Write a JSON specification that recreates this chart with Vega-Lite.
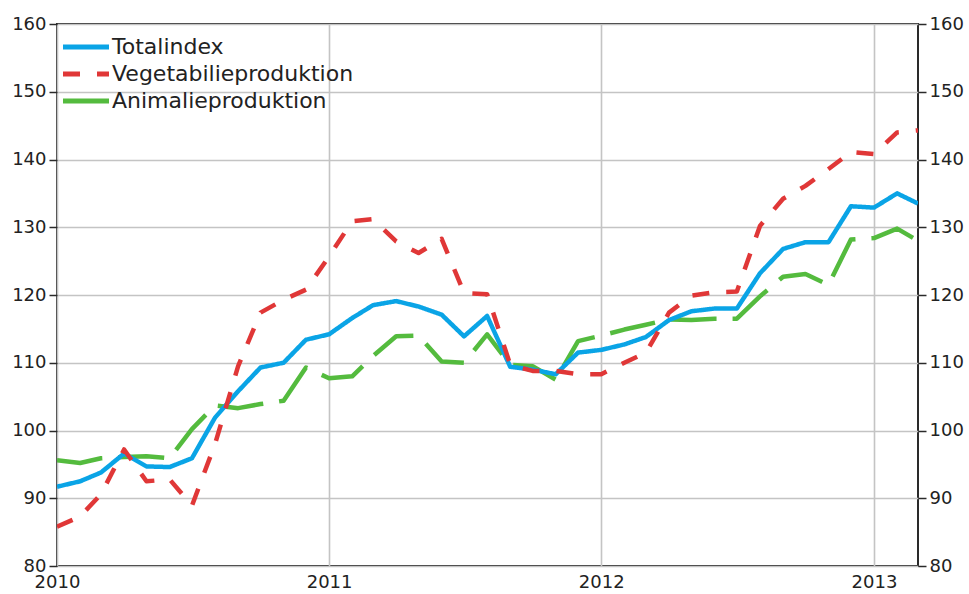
{
  "$schema": "https://vega.github.io/schema/vega-lite/v6.json",
  "width": 861,
  "height": 542,
  "autosize": "none",
  "padding": {"left": 57, "top": 24, "right": 51, "bottom": 28},
  "background": "white",
  "config": {
    "font": "DejaVu Sans",
    "view": {"stroke": "#2a2a2a", "strokeWidth": 2},
    "axis": {"labelFont": "DejaVu Sans", "labelFontSize": 18, "labelColor": "#222", "gridColor": "#c4c4c4", "gridWidth": 1.6, "domain": false, "tickColor": "#2a2a2a", "tickWidth": 1.5},
    "legend": {"orient": "none", "legendX": 15, "legendY": 9, "symbolType": "M-2,0H2", "symbolSize": 529, "symbolStrokeWidth": 5, "symbolFillColor": "transparent", "labelFont": "DejaVu Sans", "labelFontSize": 22, "labelColor": "#222", "labelLimit": 0, "rowPadding": 2, "labelOffset": 12, "symbolOffset": 0, "padding": 0}
  },
  "data": {"values": [
    {"m": "2010-01-01", "Totalindex": 91.7, "Vegetabilieproduktion": 85.8, "Animalieproduktion": 95.6},
    {"m": "2010-02-01", "Totalindex": 92.5, "Vegetabilieproduktion": 87.3, "Animalieproduktion": 95.2},
    {"m": "2010-03-01", "Totalindex": 93.8, "Vegetabilieproduktion": 90.6, "Animalieproduktion": 95.9},
    {"m": "2010-04-01", "Totalindex": 96.6, "Vegetabilieproduktion": 97.2, "Animalieproduktion": 96.1},
    {"m": "2010-05-01", "Totalindex": 94.7, "Vegetabilieproduktion": 92.5, "Animalieproduktion": 96.2},
    {"m": "2010-06-01", "Totalindex": 94.6, "Vegetabilieproduktion": 92.8, "Animalieproduktion": 95.9},
    {"m": "2010-07-01", "Totalindex": 95.9, "Vegetabilieproduktion": 88.9, "Animalieproduktion": 100.2},
    {"m": "2010-08-01", "Totalindex": 101.9, "Vegetabilieproduktion": 98.0, "Animalieproduktion": 103.7},
    {"m": "2010-09-01", "Totalindex": 105.8, "Vegetabilieproduktion": 109.5, "Animalieproduktion": 103.3},
    {"m": "2010-10-01", "Totalindex": 109.3, "Vegetabilieproduktion": 117.4, "Animalieproduktion": 103.9},
    {"m": "2010-11-01", "Totalindex": 110.0, "Vegetabilieproduktion": 119.3, "Animalieproduktion": 104.4},
    {"m": "2010-12-01", "Totalindex": 113.4, "Vegetabilieproduktion": 120.8, "Animalieproduktion": 109.3},
    {"m": "2011-01-01", "Totalindex": 114.2, "Vegetabilieproduktion": 125.7, "Animalieproduktion": 107.7},
    {"m": "2011-02-01", "Totalindex": 116.6, "Vegetabilieproduktion": 130.9, "Animalieproduktion": 108.0},
    {"m": "2011-03-01", "Totalindex": 118.5, "Vegetabilieproduktion": 131.2, "Animalieproduktion": 111.0},
    {"m": "2011-04-01", "Totalindex": 119.1, "Vegetabilieproduktion": 127.9, "Animalieproduktion": 113.9},
    {"m": "2011-05-01", "Totalindex": 118.3, "Vegetabilieproduktion": 126.2, "Animalieproduktion": 114.0},
    {"m": "2011-06-01", "Totalindex": 117.1, "Vegetabilieproduktion": 128.3, "Animalieproduktion": 110.2},
    {"m": "2011-07-01", "Totalindex": 113.9, "Vegetabilieproduktion": 120.3, "Animalieproduktion": 110.0},
    {"m": "2011-08-01", "Totalindex": 116.9, "Vegetabilieproduktion": 120.1, "Animalieproduktion": 114.2},
    {"m": "2011-09-01", "Totalindex": 109.4, "Vegetabilieproduktion": 109.7, "Animalieproduktion": 109.7},
    {"m": "2011-10-01", "Totalindex": 109.0, "Vegetabilieproduktion": 108.8, "Animalieproduktion": 109.5},
    {"m": "2011-11-01", "Totalindex": 108.3, "Vegetabilieproduktion": 108.8, "Animalieproduktion": 107.5},
    {"m": "2011-12-01", "Totalindex": 111.5, "Vegetabilieproduktion": 108.3, "Animalieproduktion": 113.2},
    {"m": "2012-01-01", "Totalindex": 111.9, "Vegetabilieproduktion": 108.3, "Animalieproduktion": 114.0},
    {"m": "2012-02-01", "Totalindex": 112.7, "Vegetabilieproduktion": 110.0, "Animalieproduktion": 114.9},
    {"m": "2012-03-01", "Totalindex": 113.8, "Vegetabilieproduktion": 111.5, "Animalieproduktion": 115.6},
    {"m": "2012-04-01", "Totalindex": 116.3, "Vegetabilieproduktion": 117.4, "Animalieproduktion": 116.4},
    {"m": "2012-05-01", "Totalindex": 117.6, "Vegetabilieproduktion": 119.9, "Animalieproduktion": 116.3},
    {"m": "2012-06-01", "Totalindex": 118.0, "Vegetabilieproduktion": 120.4, "Animalieproduktion": 116.5},
    {"m": "2012-07-01", "Totalindex": 118.0, "Vegetabilieproduktion": 120.5, "Animalieproduktion": 116.5},
    {"m": "2012-08-01", "Totalindex": 123.2, "Vegetabilieproduktion": 130.2, "Animalieproduktion": 119.8},
    {"m": "2012-09-01", "Totalindex": 126.8, "Vegetabilieproduktion": 134.2, "Animalieproduktion": 122.7},
    {"m": "2012-10-01", "Totalindex": 127.8, "Vegetabilieproduktion": 136.1, "Animalieproduktion": 123.1},
    {"m": "2012-11-01", "Totalindex": 127.8, "Vegetabilieproduktion": 138.6, "Animalieproduktion": 121.5},
    {"m": "2012-12-01", "Totalindex": 133.1, "Vegetabilieproduktion": 141.1, "Animalieproduktion": 128.2},
    {"m": "2013-01-01", "Totalindex": 132.9, "Vegetabilieproduktion": 140.8, "Animalieproduktion": 128.4},
    {"m": "2013-02-01", "Totalindex": 135.0, "Vegetabilieproduktion": 144.0, "Animalieproduktion": 129.8},
    {"m": "2013-03-01", "Totalindex": 133.5, "Vegetabilieproduktion": 144.3, "Animalieproduktion": 128.0}
  ]},
  "transform": [
    {"fold": ["Animalieproduktion", "Totalindex", "Vegetabilieproduktion"], "as": ["serie", "value"]}
  ],
  "encoding": {
    "x": {"field": "m", "type": "temporal", "title": null,
      "scale": {"type": "utc", "domain": [1262304000000, 1362096000000], "nice": false},
      "axis": {"values": [1262304000000, 1293840000000, 1325376000000, 1356998400000], "format": "%Y", "formatType": "utc", "ticks": false, "labelPadding": 7, "grid": true, "labelFlush": false}
    }
  },
  "layer": [
    {
      "mark": {"type": "line", "strokeWidth": 4.5, "strokeCap": "butt", "strokeJoin": "round", "clip": true},
      "encoding": {
        "y": {"field": "value", "type": "quantitative", "title": null,
          "scale": {"domain": [80, 160], "nice": false, "zero": false},
          "axis": {"orient": "left", "values": [80, 90, 100, 110, 120, 130, 140, 150, 160], "tickSize": 8, "labelPadding": 3, "grid": true}
        },
        "color": {"field": "serie", "type": "nominal", "title": null,
          "scale": {"domain": ["Totalindex", "Vegetabilieproduktion", "Animalieproduktion"], "range": ["#0aa4e6", "#e03737", "#54bb3e"]}
        },
        "strokeDash": {"field": "serie", "type": "nominal", "title": null,
          "scale": {"domain": ["Totalindex", "Vegetabilieproduktion", "Animalieproduktion"], "range": [[1, 0], [17, 17], [46, 16]]}
        }
      }
    },
    {
      "mark": {"type": "line", "strokeOpacity": 0},
      "encoding": {
        "y": {"field": "value", "type": "quantitative", "title": null,
          "axis": {"orient": "right", "values": [80, 90, 100, 110, 120, 130, 140, 150, 160], "tickSize": 8, "labelPadding": 3, "grid": false}
        },
        "detail": {"field": "serie"}
      }
    }
  ],
  "resolve": {"axis": {"y": "independent"}}
}
